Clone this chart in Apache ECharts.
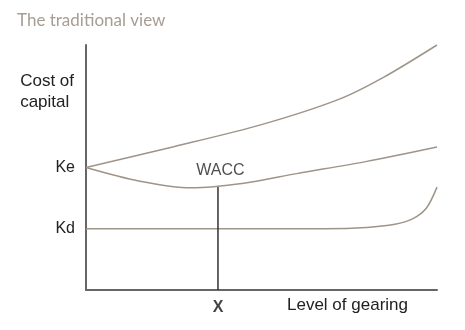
<!DOCTYPE html>
<html>
<head>
<meta charset="utf-8">
<script src="https://cdn.jsdelivr.net/npm/echarts@6/dist/echarts.min.js"></script>
<style>html,body{margin:0;padding:0;background:#fff}#c{width:465px;height:330px}</style>
</head>
<body>
<div id="c"></div>
<script>
// Level of gearing (0-100) and cost of capital (0-100)
const keX   = [0, 25, 50, 72, 85, 100];
const keY   = [50, 58.5, 67.5, 77.8, 87, 100];
const waccX = [0, 15, 30, 45, 60, 80, 100];
const waccY = [50, 44.5, 41.7, 43.6, 47.5, 52.5, 58.4];
const kdX   = [0, 40, 68, 80, 88, 93, 97, 100];
const kdY   = [25, 25, 25, 25.5, 26.8, 29, 33.5, 42];
const xOptimal = 37.6;
const yTickLabels = {25: 'Kd', 50: 'Ke'};
const titleText = 'The traditional view';
const yTitle = 'Cost of\ncapital';
const xTitle = 'Level of gearing';

function pairs(xs, ys){ return xs.map((x,i)=>[x, ys[i]]); }
const curveColor = '#9e948a';
const font = 'Liberation Sans, Arial, sans-serif';
const chart = echarts.init(document.getElementById('c'), null, {renderer:'canvas'});
chart.setOption({
  animation: false,
  backgroundColor: '#fff',
  title: { text: titleText, left: 12, top: 7, textStyle: { fontFamily: 'Lato, sans-serif', fontWeight: 'normal', fontSize: 17, color: '#a69d95' } },
  grid: { left: 86, right: 28, top: 45, bottom: 40 },
  xAxis: { type: 'value', min: 0, max: 100, axisLine: { show: true, lineStyle: { color: '#666', width: 2 } }, axisTick: { show: false }, axisLabel: { show: false }, splitLine: { show: false } },
  yAxis: { type: 'value', min: 0, max: 100, interval: 25,
    axisLine: { show: true, lineStyle: { color: '#666', width: 2 } }, axisTick: { show: false }, splitLine: { show: false },
    axisLabel: { margin: 11, fontFamily: font, fontSize: 16, color: '#222', padding: [0,0,9,0], formatter: v => yTickLabels[v] || '' } },
  graphic: [
    { type: 'text', right: 465-74, top: 71, style: { text: yTitle, font: '17px ' + font, fill: '#222', align: 'right', lineHeight: 21 } },
    { type: 'text', left: 287, top: 297, style: { text: xTitle, font: '17px ' + font, fill: '#222' } }
  ],
  series: [
    { type: 'line', data: pairs(keX, keY), smooth: 0.3, showSymbol: false, lineStyle: { color: curveColor, width: 1.5 } },
    { type: 'line', data: pairs(waccX, waccY), smooth: 0.3, showSymbol: false, lineStyle: { color: curveColor, width: 1.5 } },
    { type: 'line', data: pairs(kdX, kdY), smooth: 0.3, showSymbol: false, lineStyle: { color: curveColor, width: 1.5 } },
    { type: 'line', data: [[xOptimal, 0], [xOptimal, 42]], showSymbol: false, lineStyle: { color: '#333', width: 1.5 } },
    { type: 'scatter', symbolSize: 1, itemStyle: { color: 'rgba(0,0,0,0)' }, silent: true,
      data: [
        { value: [xOptimal, 0], label: { show: true, position: 'bottom', distance: 9, formatter: 'X', fontFamily: font, fontWeight: 'bold', fontSize: 16, color: '#111' } },
        { value: [38.3, 42], label: { show: true, position: 'top', distance: 8, formatter: 'WACC', fontFamily: font, fontSize: 16, color: '#222' } }
      ] }
  ]
});
</script>
</body>
</html>
